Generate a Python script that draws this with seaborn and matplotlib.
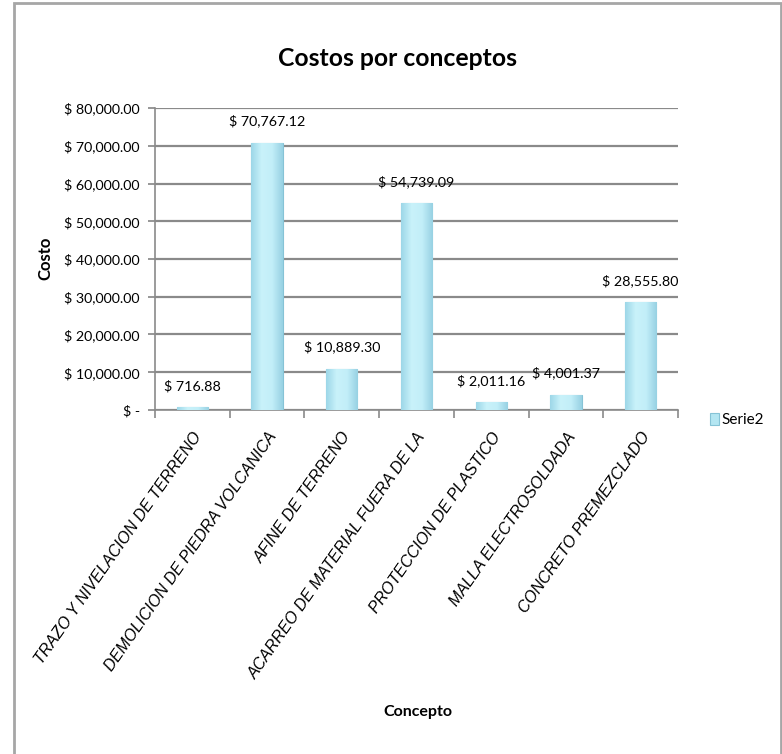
import numpy as np
import pandas as pd
import matplotlib
matplotlib.use("Agg")
import matplotlib.pyplot as plt
from matplotlib.patches import Rectangle
from matplotlib.colors import LinearSegmentedColormap
import seaborn as sns

# data
conceptos = ['TRAZO Y NIVELACION DE TERRENO', 'DEMOLICION DE PIEDRA VOLCANICA',
             'AFINE DE TERRENO', 'ACARREO DE MATERIAL FUERA DE LA',
             'PROTECCION DE PLASTICO', 'MALLA ELECTROSOLDADA', 'CONCRETO PREMEZCLADO']
costos = [716.88, 70767.12, 10889.30, 54739.09, 2011.16, 4001.37, 28555.80]
y_ticks = [0, 10000, 20000, 30000, 40000, 50000, 60000, 70000, 80000]
serie = 'Serie2'

df = pd.DataFrame({'Concepto': conceptos, 'Costo': costos})

sns.set_theme(style='white')
plt.rcParams['font.family'] = ['Lato', 'DejaVu Sans']
plt.rcParams['text.color'] = 'black'
plt.rcParams['xtick.color'] = 'black'
plt.rcParams['ytick.color'] = 'black'

W, H = 782, 754
fig = plt.figure(figsize=(W / 100, H / 100), dpi=100)
ax = fig.add_axes([155 / W, 1 - 410 / H, (678 - 155) / W, (410 - 108) / H])

sns.barplot(data=df, x='Concepto', y='Costo', ax=ax, width=0.42,
            color='#b4e6f2', edgecolor='#86c3d6', linewidth=0.8,
            saturation=1, label=serie, zorder=3)

# gradient fill like the office look
grad = LinearSegmentedColormap.from_list('g', ['#9dd7e8', '#c9f2fa', '#c2eef8', '#97d1e3'])
g = np.linspace(0, 1, 64).reshape(1, -1)
for p in ax.patches:
    x0, w, h = p.get_x(), p.get_width(), p.get_height()
    im = ax.imshow(g, cmap=grad, aspect='auto', extent=[x0, x0 + w, 0, h],
                   zorder=3.5, interpolation='bicubic')
    im.set_clip_path(p)

ax.set_xlim(-0.5, len(conceptos) - 0.5)
ax.set_ylim(0, 80000)
ax.set_yticks(y_ticks)
ax.set_yticklabels(['$ -' if v == 0 else f'$ {v:,.2f}' for v in y_ticks], fontsize=10.3)
ax.yaxis.grid(True, color='#8a8a8a', linewidth=1.6, zorder=0)
ax.set_axisbelow(True)

for s in ['top', 'right']:
    ax.spines[s].set_visible(False)
for s in ['left', 'bottom']:
    ax.spines[s].set_color('#8a8a8a')
    ax.spines[s].set_linewidth(1.2)

ax.tick_params(axis='y', left=True, length=5, color='#8a8a8a', pad=6)
ax.set_xticks(np.arange(len(conceptos)))
ax.set_xticklabels(conceptos, rotation=55, ha='right', va='top',
                   rotation_mode='anchor', fontsize=11.5, style='italic',
                   family=['Liberation Sans', 'DejaVu Sans'])
ax.tick_params(axis='x', bottom=False, pad=8)
# category separator ticks
ax.set_xticks(np.arange(len(conceptos) + 1) - 0.5, minor=True)
ax.tick_params(axis='x', which='minor', bottom=True, length=6,
               color='#8a8a8a', width=1.2)

for p, v in zip(ax.patches, costos):
    ax.annotate(f'$ {v:,.2f}', (p.get_x() + p.get_width() / 2, p.get_height()),
                xytext=(0, 11), textcoords='offset points', ha='center',
                va='bottom', fontsize=10.3)

ax.set_xlabel('')
ax.set_ylabel('')
fig.text(45 / W, 1 - 258 / H, 'Costo', rotation=90, ha='center', va='center',
         fontsize=12, fontweight='bold')
fig.text(418 / W, 1 - 712 / H, 'Concepto', ha='center', va='center',
         fontsize=11.5, fontweight='bold')
fig.text(398 / W, 1 - 58 / H, 'Costos por conceptos', ha='center', va='center',
         fontsize=17.8, fontweight='bold')

leg = ax.legend(loc='center left', bbox_to_anchor=(702 / W, 1 - 420 / H),
                bbox_transform=fig.transFigure, frameon=False, fontsize=11,
                handlelength=0.6, handleheight=0.9, handletextpad=0.15,
                borderpad=0)

fig.patches.append(Rectangle((14 / W, -0.05), (781 - 14) / W, 1 - 3 / H + 0.05,
                             transform=fig.transFigure, fill=False,
                             edgecolor='#a6a6a6', linewidth=2))

fig.savefig('out.png', dpi=100, facecolor='white')
